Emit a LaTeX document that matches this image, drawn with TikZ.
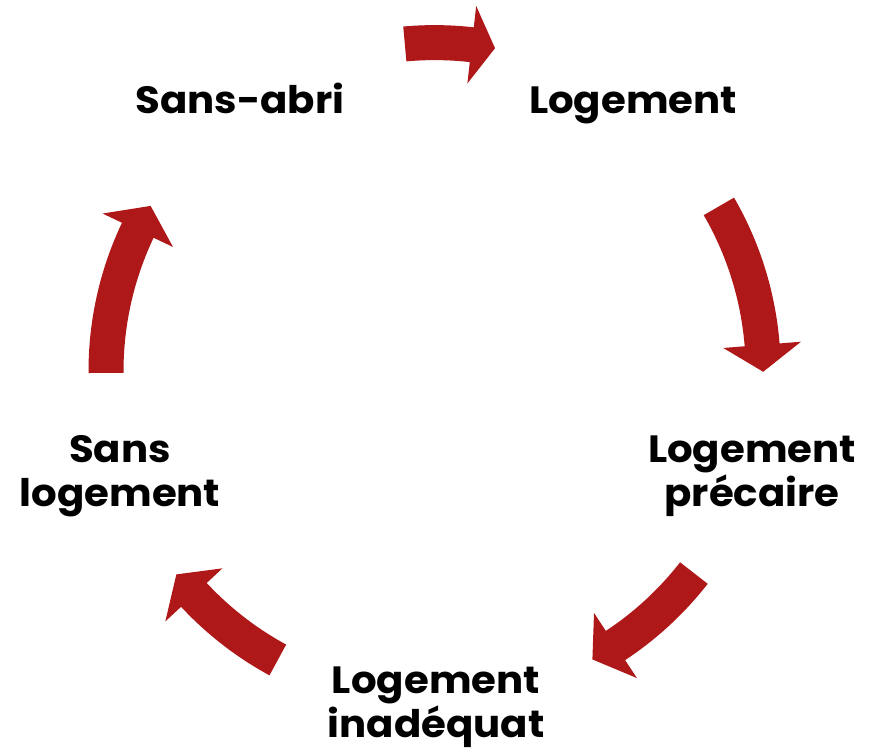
\documentclass[tikz,border=0pt]{standalone}
\usepackage{fontspec}
\setmainfont{Poppins}[FakeStretch=1.06]
\definecolor{arrowred}{RGB}{175,24,24}
\tikzset{
  lbl/.style={font=\fontsize{38}{44}\selectfont\bfseries, align=center, anchor=base, inner sep=0pt, text=black},
  cyc/.style={fill=arrowred, draw=none}
}
% #1 tail angle, #2 tip angle, #3 head length (deg)
\newcommand\cycarrow[3]{%
  \pgfmathsetmacro\hb{#2+#3}%
  \fill[cyc, shift={(C)}] (#1:346.1) arc[start angle=#1, end angle=\hb, radius=346.1]
    -- (\hb:367.6) -- (#2:328.6) -- (\hb:289.6) -- (\hb:311.1)
    arc[start angle=\hb, end angle=#1, radius=311.1] -- cycle;}
\begin{document}
\begin{tikzpicture}[x=1pt,y=1pt]
\useasboundingbox (0,0) rectangle (871,748);
\coordinate (C) at (434.6,376.8);
\cycarrow{95.2}{79.4}{4.1}
\cycarrow{30.1}{-0.1}{4.7}
\cycarrow{-37.9}{-61.3}{4.7}
\cycarrow{241.5}{218.2}{4.7}
\cycarrow{180.3}{149.8}{4.8}
\node[lbl] (sansabri) at (240,634) {Sans-abri};
\node[lbl] (logement) at (633,634) {Logement};
\node[lbl] (precaire) at (752,241) {Logement\\précaire};
\node[lbl] (inadequat) at (436,11) {Logement\\inadéquat};
\node[lbl] (sanslog) at (120,241) {Sans\\logement};
\end{tikzpicture}
\end{document}
